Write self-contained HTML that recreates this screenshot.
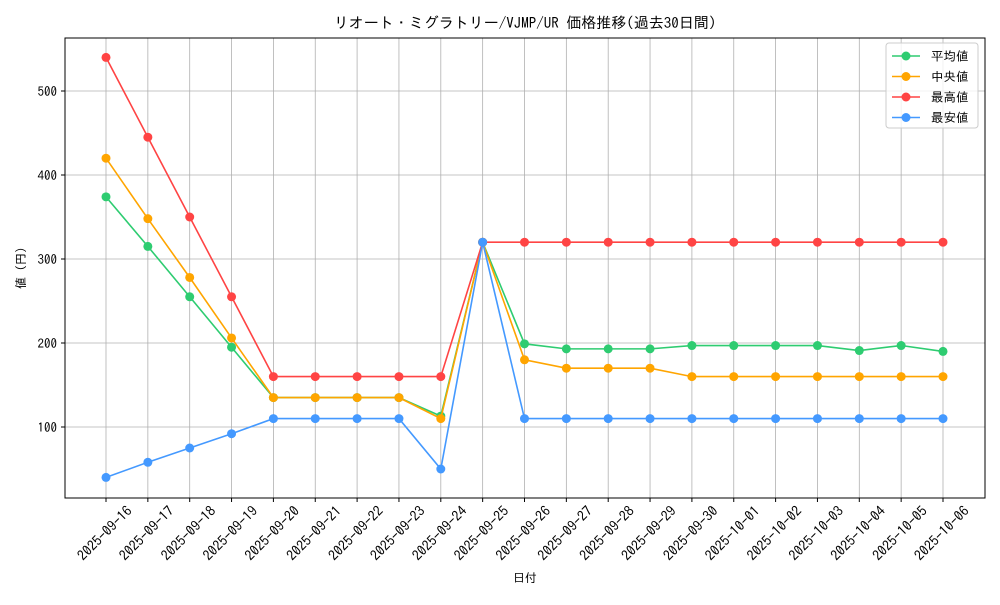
<!DOCTYPE html>
<html><head><meta charset="utf-8"><style>
body{margin:0;background:#fff;}
svg text{font-family:"IPAGothic","Noto Sans CJK JP",monospace;fill:#000;}
</style></head><body>
<svg id="chart" width="1000" height="600" xmlns="http://www.w3.org/2000/svg">
<rect width="1000" height="600" fill="#fff"/>
<text x="525" y="28" text-anchor="middle" font-size="15">リオート・ミグラトリー/VJMP/UR 価格推移(過去30日間)</text>
<g id="grid"></g>
<g id="series"></g>
<rect x="65" y="38" width="920" height="460" fill="none" stroke="#000" stroke-width="1"/>
<g id="axes"></g>
<text x="525" y="582" text-anchor="middle" font-size="12">日付</text>
<text transform="translate(25,268) rotate(-90)" text-anchor="middle" font-size="12">値 (円)</text>
<g id="legend">
<rect x="886" y="43" width="92" height="85" rx="3" fill="#fff" fill-opacity="0.8" stroke="#ccc"/>
</g>
</svg>
<script>
const categories=["2025-09-16","2025-09-17","2025-09-18","2025-09-19","2025-09-20","2025-09-21","2025-09-22","2025-09-23","2025-09-24","2025-09-25","2025-09-26","2025-09-27","2025-09-28","2025-09-29","2025-09-30","2025-10-01","2025-10-02","2025-10-03","2025-10-04","2025-10-05","2025-10-06"];
const avgValues=[374,315,255,195,135,135,135,135,113,320,199,193,193,193,197,197,197,197,191,197,190];
const medianValues=[420,348,278,206,135,135,135,135,110,320,180,170,170,170,160,160,160,160,160,160,160];
const maxValues=[540,445,350,255,160,160,160,160,160,320,320,320,320,320,320,320,320,320,320,320,320];
const minValues=[40,58,75,92,110,110,110,110,50,320,110,110,110,110,110,110,110,110,110,110,110];
const yTicks=[100,200,300,400,500];
const seriesNames=["平均値","中央値","最高値","最安値"];
const seriesColors=["#2ecc71","#ffa500","#ff4444","#4499ff"];
const NS="http://www.w3.org/2000/svg";
const xs=i=>106+i*(943-106)/(categories.length-1);
const ys=v=>511-v*0.84;
function mk(t,a,p){const e=document.createElementNS(NS,t);for(const k in a)e.setAttribute(k,a[k]);p.appendChild(e);return e;}
const grid=document.getElementById('grid'),axes=document.getElementById('axes'),ser=document.getElementById('series'),leg=document.getElementById('legend');
categories.forEach((c,i)=>{
  const x=xs(i);
  const g=mk('line',{x1:x,x2:x,y1:38,y2:498,stroke:'#b0b0b0','stroke-width':0.8},grid);
  
  
  const t=mk('line',{x1:x,x2:x,y1:498,y2:502,stroke:'#000'},axes);
  
  
  const ax=x+20, ay=505;
  const l=mk('text',{x:ax,y:ay,'text-anchor':'end','font-size':14,transform:`rotate(-45 ${ax} ${ay})`,dy:'0.7em'},axes);
  l.textContent=c;
  
  
});
yTicks.forEach(v=>{
  const y=ys(v);
  const g=mk('line',{x1:65,x2:985,y1:y,y2:y,stroke:'#b0b0b0','stroke-width':0.8},grid);
  
  
  const t=mk('line',{x1:61,x2:65,y1:y,y2:y,stroke:'#000'},axes);
  
  
  const l=mk('text',{x:57,y:y+5,'text-anchor':'end','font-size':13},axes);
  l.textContent=v;
  
  
});
[avgValues,medianValues,maxValues,minValues].forEach((vals,s)=>{
  const col=seriesColors[s];
  const pl=mk('polyline',{points:vals.map((v,i)=>xs(i)+','+ys(v)).join(' '),fill:'none',stroke:col,'stroke-width':1.6},ser);
  
  
  vals.forEach((v,i)=>{
    const c=mk('circle',{cx:xs(i),cy:ys(v),r:4.5,fill:col},ser);
    
    
  });
  const ly=56+s*20.5;
  const ll=mk('line',{x1:892,x2:920,y1:ly,y2:ly,stroke:col,'stroke-width':1.6},leg);
  
  
  const lc=mk('circle',{cx:906,cy:ly,r:4.5,fill:col},leg);
  
  
  const lt=mk('text',{x:931,y:ly+4.5,'font-size':12.5},leg);
  lt.textContent=seriesNames[s];
  
  
});
</script>
</body></html>
